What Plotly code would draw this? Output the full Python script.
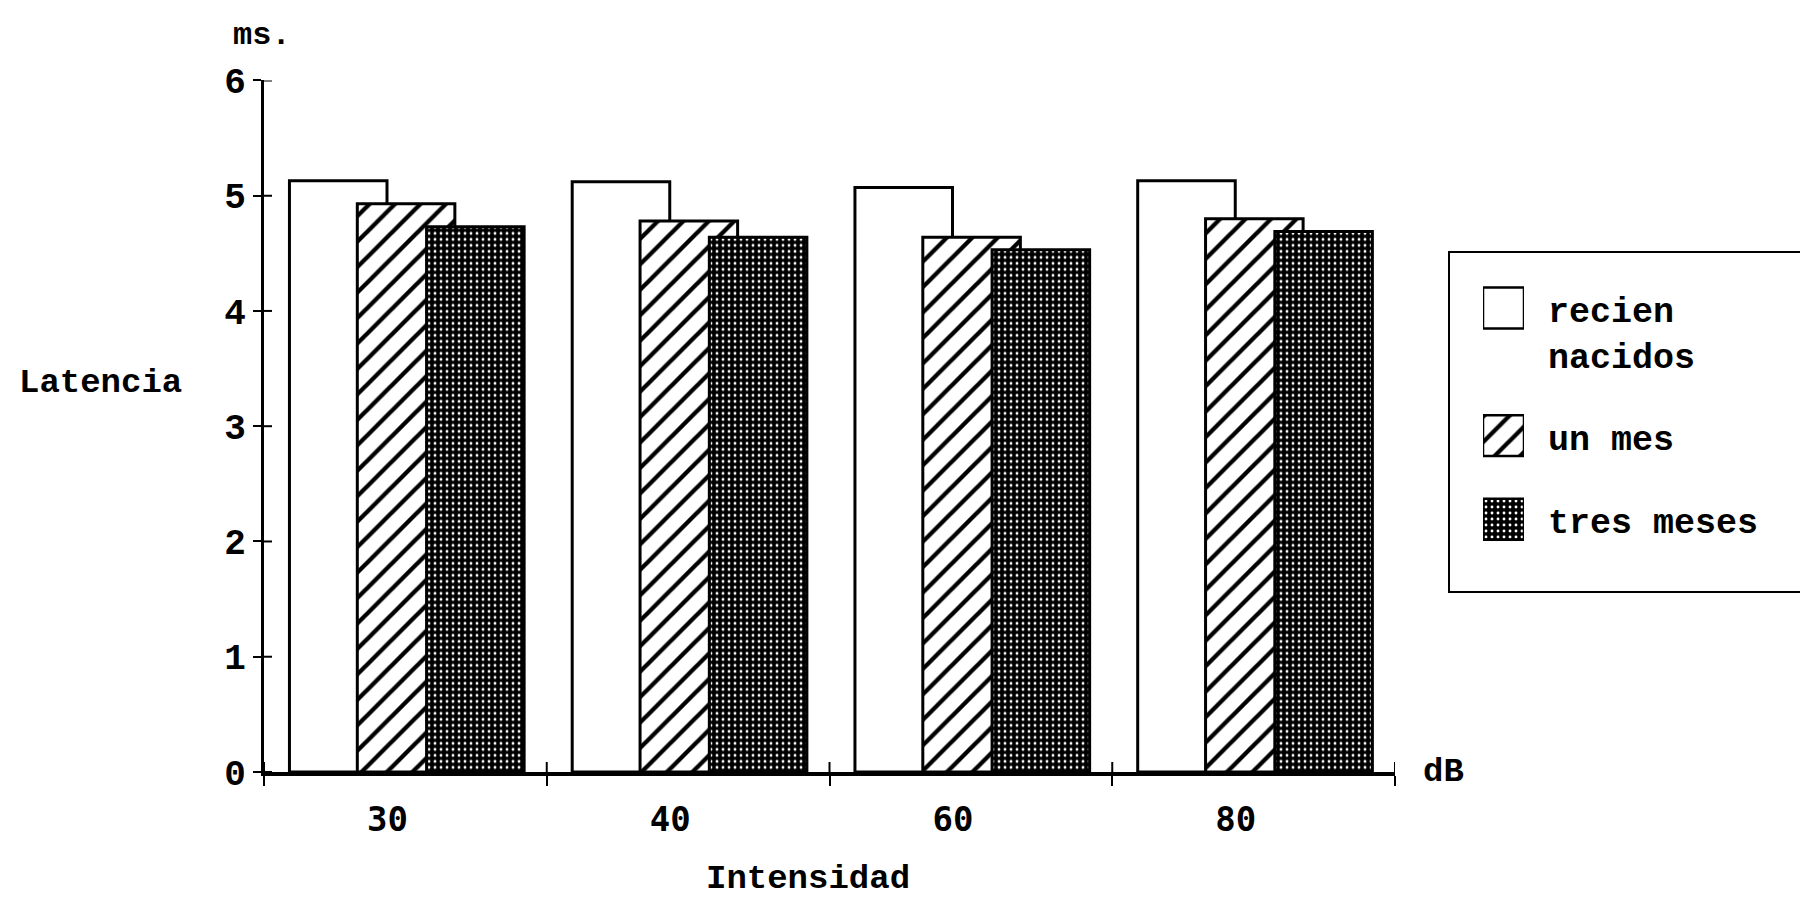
import plotly.graph_objects as go

# ---------------- data ----------------
categories = ["30", "40", "60", "80"]
series_names = ["recien nacidos", "un mes", "tres meses"]
recien_nacidos = [5.13, 5.12, 5.07, 5.13]
un_mes = [4.93, 4.78, 4.64, 4.80]
tres_meses = [4.73, 4.64, 4.53, 4.69]
legend_labels = ["recien<br>nacidos", "un mes", "tres meses"]
y_tick_values = [0, 1, 2, 3, 4, 5, 6]

series_values = [recien_nacidos, un_mes, tres_meses]

# ---------------- styles ----------------
W, H = 1800, 900
TXT = "Liberation Mono"
NUM = "DejaVu Sans Mono"

def px_x(p):
    return p / W

def px_y(p):
    return (H - p) / H

bar_width = 0.345
bar_offsets = [-0.41, -0.17, 0.075]
patterns = [
    dict(shape=""),
    dict(shape="/", fgcolor="black", bgcolor="white", size=18, solidity=0.24, fillmode="replace"),
    dict(shape=".", fgcolor="white", bgcolor="black", size=6, solidity=0.18, fillmode="replace"),
]
fills = ["white", "white", "black"]

# legend row positions (in text-line units) derived from label line counts
legend_gap = 0.9
legend_pos = []
acc = 0.0
for lab in legend_labels:
    legend_pos.append(acc)
    acc += lab.count("<br>") + 1 + legend_gap

fig = go.Figure()

for name, vals, off, pat, fc in zip(series_names, series_values, bar_offsets, patterns, fills):
    fig.add_trace(go.Bar(
        x=categories, y=vals, name=name,
        width=bar_width, offset=off,
        marker=dict(color=fc, line=dict(color="black", width=3), pattern=pat),
        showlegend=False, hoverinfo="skip",
        xaxis="x", yaxis="y",
    ))

# legend swatches (separate small subplot)
for name, pos, pat, fc in zip(series_names, legend_pos, patterns, fills):
    fig.add_trace(go.Bar(
        y=[pos], x=[1], orientation="h", width=0.93, name=name,
        marker=dict(color=fc, line=dict(color="black", width=2.5), pattern=pat),
        showlegend=False, hoverinfo="skip",
        xaxis="x2", yaxis="y2",
    ))

x_dom = [px_x(264), px_x(1395)]
y_dom = [px_y(772), px_y(80.4)]

fig.update_layout(
    width=W, height=H,
    margin=dict(l=0, r=0, t=0, b=0, autoexpand=False),
    paper_bgcolor="white", plot_bgcolor="white",
    barmode="overlay",
    showlegend=False,
    xaxis=dict(
        domain=x_dom, anchor="y", type="category",
        categoryorder="array", categoryarray=categories,
        range=[-0.5, 3.5], tickson="boundaries",
        ticks="outside", ticklen=10, tickwidth=2, tickcolor="black",
        showline=True, linewidth=4, linecolor="black",
        showgrid=False, zeroline=False, automargin=False,
        tickfont=dict(family=NUM, size=34, color="black", weight="bold"),
        ticklabelshift=-18, ticklabelstandoff=14,
    ),
    yaxis=dict(
        domain=y_dom, anchor="x", range=[0, 6],
        tickmode="array", tickvals=y_tick_values,
        ticks="outside", ticklen=8, tickwidth=2, tickcolor="black",
        showline=True, linewidth=3, linecolor="black",
        showgrid=False, zeroline=False, automargin=False,
        tickfont=dict(family=TXT, size=36, color="black", weight="bold"),
        ticklabelstandoff=0,
    ),
    xaxis2=dict(
        domain=[px_x(1483), px_x(1524)], anchor="y2", range=[0, 1],
        visible=False, fixedrange=True,
    ),
    yaxis2=dict(
        domain=[px_y(572), px_y(264)], anchor="x2",
        range=[6, -1], visible=False, fixedrange=True,
    ),
)

# inner halves of the crossing ticks (category boundaries and y ticks)
for i in range(len(categories) + 1):
    fig.add_shape(type="line", xref="x", yref="y", x0=i - 0.5, x1=i - 0.5,
                  ysizemode="pixel", yanchor=0, y0=0, y1=10,
                  line=dict(color="black", width=2), layer="above")
for v in y_tick_values:
    fig.add_shape(type="line", xref="x domain", yref="y", y0=v, y1=v,
                  xsizemode="pixel", xanchor=0, x0=0, x1=8,
                  line=dict(color="black", width=2), layer="above")

# legend box
fig.add_shape(type="rect", xref="paper", yref="paper",
              x0=px_x(1449), x1=1.02, y0=px_y(592), y1=px_y(252),
              line=dict(color="black", width=2), fillcolor="rgba(0,0,0,0)", layer="below")

# legend labels
for pos, lab in zip(legend_pos, legend_labels):
    fig.add_annotation(
        xref="x2", yref="y2", x=1, y=pos, text=lab,
        xanchor="left", yanchor="top", xshift=22, yshift=17,
        showarrow=False, align="left",
        font=dict(family=TXT, size=35, color="black", weight="bold"),
    )

# axis texts
fig.add_annotation(xref="x domain", yref="y domain", x=0, y=1, text="ms.",
                   xanchor="left", yanchor="middle", xshift=-33, yshift=45,
                   showarrow=False,
                   font=dict(family=TXT, size=32, color="black", weight="bold"))
fig.add_annotation(xref="paper", yref="paper", x=px_x(100), y=px_y(383), text="Latencia",
                   xanchor="center", yanchor="middle", showarrow=False,
                   font=dict(family=TXT, size=34, color="black", weight="bold"))
fig.add_annotation(xref="x domain", yref="y", x=1, y=0, text="dB",
                   xanchor="left", yanchor="middle", xshift=26,
                   showarrow=False,
                   font=dict(family=TXT, size=34, color="black", weight="bold"))
fig.add_annotation(xref="paper", yref="paper", x=px_x(808), y=0, text="Intensidad",
                   xanchor="center", yanchor="bottom", showarrow=False,
                   font=dict(family=TXT, size=34, color="black", weight="bold"))

fig.write_html("out.html")
